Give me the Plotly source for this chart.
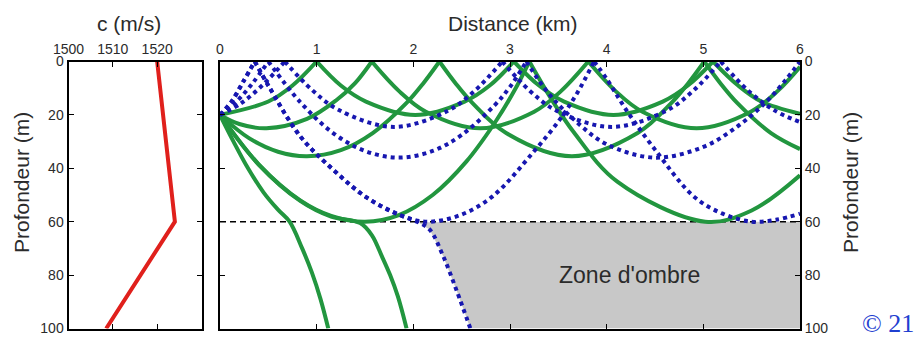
import plotly.graph_objects as go

# ---- sound speed profile (left panel) ----
profile_depth = [0, 60, 100]
profile_speed = [1520, 1524, 1508.5]

# ---- rays (distance km, depth m) ----
ray_g1 = [(0, 20), (0.5, 15), (0.75, 9), (1.0, 0), (1.25, 9), (1.51, 15), (2.02, 20), (2.53, 15), (2.79, 9),
          (3.04, 0), (3.3, 9), (3.56, 15), (4.07, 20), (4.58, 15), (4.84, 9), (5.1, 0), (5.36, 9), (5.6, 15), (6.0, 19.6)]
ray_g2 = [(0, 20), (0.2, 23.4), (0.48, 25), (0.9, 21.5), (1.2, 14.6), (1.4, 8), (1.57, 0), (1.85, 11), (2.13, 18.8),
          (2.69, 25), (3.25, 18.8), (3.53, 11), (3.81, 0), (4.09, 11), (4.37, 18.8), (4.93, 25), (5.49, 18.8),
          (5.77, 11), (6.0, 2)]
ray_g3 = [(0, 20), (0.3, 28.7), (0.6, 33.8), (0.9, 35.5), (1.25, 33.2), (1.58, 26.8), (1.93, 15.5), (2.1, 8.3),
          (2.27, 0), (2.44, 8.3), (2.61, 15.5), (2.96, 26.8), (3.64, 35.5), (4.32, 26.8), (4.67, 15.5), (4.84, 8.3),
          (5.01, 0), (5.18, 8.3), (5.35, 15.5), (5.7, 26.8), (6.0, 32.8)]
ray_g60 = [(0, 20), (0.4, 38.5), (0.83, 52), (1.15, 57.8), (1.5, 60), (1.85, 57.5), (2.2, 50), (2.55, 37.4),
           (2.86, 22), (3.05, 10.6), (3.2, 0), (3.43, 14.2), (3.66, 26.5), (4.11, 45), (5.02, 60), (5.5, 55.8),
           (6.0, 42.6)]
ray_gd2 = [(0, 20), (0.4, 38.6), (0.83, 52.2), (1.15, 58.1), (1.45, 60.5), (1.57, 65), (1.675, 73), (1.76, 80),
           (1.84, 88), (1.93, 100)]
ray_gd1 = [(0, 20), (0.14, 30), (0.29, 40), (0.45, 49), (0.6, 55.5), (0.72, 60), (0.85, 70), (0.95, 79),
           (1.04, 89), (1.12, 100)]

ray_b1 = [(0, 20), (0.22, 15.6), (0.45, 8.5), (0.67, 0), (0.95, 10.6), (1.23, 18.2), (1.8, 24.5), (2.36, 18.4),
          (2.64, 10.8), (2.92, 0), (3.2, 10.8), (3.48, 18.4), (4.05, 24.5), (4.62, 18.4), (4.9, 10.8), (5.18, 0),
          (5.46, 10.8), (5.74, 18.4), (6.0, 22.7)]
ray_b2 = [(0, 20), (0.17, 15), (0.34, 8), (0.5, 0), (0.83, 15.2), (1.17, 26.8), (1.5, 33.5), (1.85, 36),
          (2.2, 33.5), (2.5, 27.5), (2.84, 16.4), (3.0, 9.5), (3.17, 0), (3.4, 12), (3.7, 23), (4.0, 31), (4.5, 36),
          (5.0, 32), (5.35, 24.4), (5.64, 15.5), (5.85, 7), (6.0, 0)]
ray_b60 = [(0, 20), (0.12, 15), (0.24, 7.6), (0.36, 0), (0.5, 9), (0.83, 28), (1.17, 40.5), (1.52, 51),
           (1.86, 57.5), (2.14, 60), (2.48, 57.6), (2.82, 50.5), (3.24, 34), (3.52, 21.5), (3.7, 11.5), (3.87, 0),
           (4.0, 6.5), (4.2, 18), (4.5, 33), (4.9, 50.5), (5.2, 57), (5.5, 60), (5.75, 59.3), (6.0, 57)]
ray_bd = [(0, 20), (0.12, 15), (0.24, 7.6), (0.36, 0), (0.5, 9), (0.83, 28), (1.17, 40.5), (1.52, 51),
          (1.86, 57.5), (2.05, 60.2), (2.17, 63), (2.31, 73), (2.45, 86), (2.59, 100)]

layer_depth = 60
shadow_corner_x = [6, 6]
shadow_corner_z = [100, 60]

x_ticks = [0, 1, 2, 3, 4, 5, 6]
c_ticks = [1500, 1510, 1520]
z_ticks = [0, 20, 40, 60, 80, 100]

GREEN = '#22963f'
BLUE = '#1717b0'
FONT = 'Liberation Sans, Arial, sans-serif'
TXT = '#2b2b2b'


def split_ray(pts):
    xs, ys = [], []
    for i, (x, z) in enumerate(pts):
        xs.append(x)
        ys.append(z)
        if z == 0 and 0 < i < len(pts) - 1:
            xs += [None, x]
            ys += [None, z]
    return xs, ys


fig = go.Figure()

# shadow zone polygon
shadow_pts = [p for p in ray_bd if p[1] >= layer_depth]
sx = [p[0] for p in shadow_pts] + shadow_corner_x
sz = [p[1] for p in shadow_pts] + shadow_corner_z
fig.add_trace(go.Scatter(x=sx, y=sz, fill='toself', fillcolor='#c8c8c8', mode='lines',
                         line=dict(width=0, color='#c8c8c8'), xaxis='x2', yaxis='y2', hoverinfo='skip'))

# dashed layer line
fig.add_trace(go.Scatter(x=[0, 6], y=[layer_depth, layer_depth], mode='lines',
                         line=dict(color='black', width=1.5, dash='6px,4px'), xaxis='x2', yaxis='y2'))

for r in [ray_g1, ray_g2, ray_g3, ray_g60, ray_gd2, ray_gd1]:
    xs, ys = split_ray(r)
    fig.add_trace(go.Scatter(x=xs, y=ys, mode='lines', connectgaps=False,
                             line=dict(color=GREEN, width=4, shape='spline', smoothing=1),
                             xaxis='x2', yaxis='y2'))

for r in [ray_b1, ray_b2, ray_b60, ray_bd]:
    xs, ys = split_ray(r)
    fig.add_trace(go.Scatter(x=xs, y=ys, mode='lines', connectgaps=False,
                             line=dict(color=BLUE, width=4, shape='spline', smoothing=1, dash='dot'),
                             xaxis='x2', yaxis='y2'))

# sound speed profile
fig.add_trace(go.Scatter(x=profile_speed, y=profile_depth, mode='lines',
                         line=dict(color='#e0201c', width=4), xaxis='x', yaxis='y'))

W, H = 919, 338
ydom = [1 - 328.5 / H, 1 - 61.5 / H]
axis_style = dict(showline=True, mirror='ticks', linecolor='black', linewidth=2, ticks='inside',
                  ticklen=5, tickwidth=1, tickcolor='black', showgrid=False, zeroline=False,
                  automargin=False, tickfont=dict(family=FONT, size=14, color=TXT))

fig.update_layout(
    width=W, height=H, margin=dict(l=0, r=0, t=0, b=0, pad=0, autoexpand=False),
    paper_bgcolor='white', plot_bgcolor='white', showlegend=False,
    xaxis=dict(domain=[68.5 / W, 201.5 / W], range=[1500, 1530], side='top', tickvals=c_ticks,
               anchor='y', **axis_style),
    yaxis=dict(domain=ydom, range=[100, 0], tickvals=z_ticks, anchor='x', **axis_style),
    xaxis2=dict(domain=[220 / W, 800 / W], range=[0, 6], side='top', tickvals=x_ticks,
                anchor='y2', **axis_style),
    yaxis2=dict(domain=ydom, range=[100, 0], tickvals=z_ticks, side='right', anchor='x2', **axis_style),
    annotations=[
        dict(text='c (m/s)', x=129 / W, y=1 - 23 / H, xref='paper', yref='paper', showarrow=False,
             xanchor='center', yanchor='middle', font=dict(family=FONT, size=21, color=TXT)),
        dict(text='Distance (km)', x=513 / W, y=1 - 23 / H, xref='paper', yref='paper', showarrow=False,
             xanchor='center', yanchor='middle', font=dict(family=FONT, size=21, color=TXT)),
        dict(text='Profondeur (m)', x=21 / W, y=1 - 183 / H, xref='paper', yref='paper', showarrow=False,
             textangle=-90, xanchor='center', yanchor='middle', font=dict(family=FONT, size=21, color=TXT)),
        dict(text='Profondeur (m)', x=850 / W, y=1 - 183 / H, xref='paper', yref='paper', showarrow=False,
             textangle=-90, xanchor='center', yanchor='middle', font=dict(family=FONT, size=21, color=TXT)),
        dict(text="Zone d'ombre", x=4.24, y=80, xref='x2', yref='y2', showarrow=False,
             xanchor='center', yanchor='middle', font=dict(family=FONT, size=23, color=TXT)),
        dict(text='© 21', x=860 / W, y=1 - 323 / H, xref='paper', yref='paper', showarrow=False,
             xanchor='left', yanchor='middle', font=dict(family='Liberation Serif, Times New Roman, serif',
                                                         size=26, color='#1f3fd0')),
    ],
)

fig.write_html('out.html', post_script="document.body.style.margin='0px';document.body.style.overflow='hidden';")
